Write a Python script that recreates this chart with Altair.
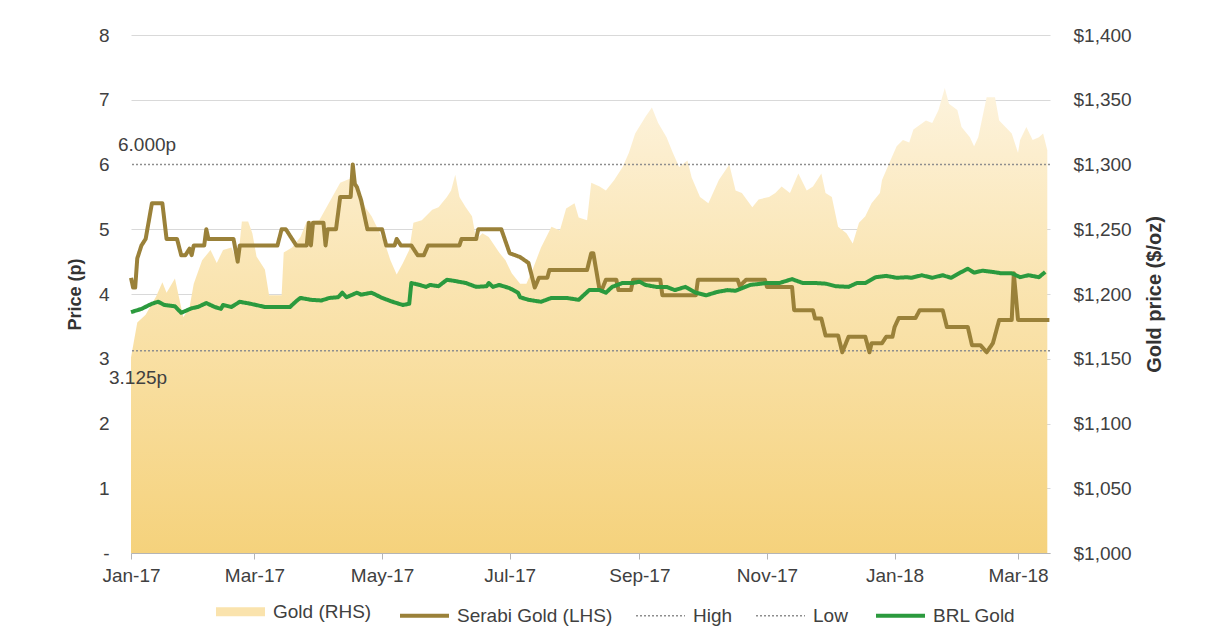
import altair as alt
import pandas as pd

# ---------------- data ----------------
GOLD_DATES = ["2017-01-01","2017-01-04","2017-01-08","2017-01-13","2017-01-16","2017-01-18","2017-01-22","2017-01-26","2017-01-29","2017-01-31",
 "2017-02-04","2017-02-08","2017-02-11","2017-02-14","2017-02-18","2017-02-21","2017-02-23","2017-02-26","2017-02-28","2017-03-02",
 "2017-03-06","2017-03-08","2017-03-14","2017-03-15","2017-03-19","2017-03-23","2017-03-26","2017-04-01","2017-04-11","2017-04-17",
 "2017-04-23","2017-04-26","2017-04-30","2017-05-03","2017-05-05","2017-05-08","2017-05-11","2017-05-14","2017-05-16","2017-05-20",
 "2017-05-25","2017-05-28","2017-06-01","2017-06-03","2017-06-05","2017-06-07","2017-06-10","2017-06-13","2017-06-15","2017-06-18",
 "2017-06-21","2017-06-26","2017-06-29","2017-07-02","2017-07-06","2017-07-09","2017-07-12","2017-07-16","2017-07-21","2017-07-25",
 "2017-07-28","2017-08-01","2017-08-03","2017-08-07","2017-08-09","2017-08-13","2017-08-16","2017-08-20","2017-08-24","2017-08-27",
 "2017-08-30","2017-09-04","2017-09-07","2017-09-10","2017-09-14","2017-09-17","2017-09-20","2017-09-24","2017-09-26","2017-09-30",
 "2017-10-04","2017-10-09","2017-10-14","2017-10-17","2017-10-20","2017-10-25","2017-10-28","2017-11-02","2017-11-05","2017-11-08",
 "2017-11-12","2017-11-16","2017-11-20","2017-11-23","2017-11-27","2017-11-29","2017-12-02","2017-12-05","2017-12-09","2017-12-12",
 "2017-12-15","2017-12-18","2017-12-21","2017-12-25","2017-12-26","2017-12-30","2018-01-02","2018-01-05","2018-01-08","2018-01-10",
 "2018-01-16","2018-01-19","2018-01-22","2018-01-25","2018-01-27","2018-01-31","2018-02-02","2018-02-06","2018-02-08","2018-02-10",
 "2018-02-14","2018-02-18","2018-02-20","2018-02-23","2018-02-26","2018-03-01","2018-03-02","2018-03-05","2018-03-08","2018-03-11",
 "2018-03-13","2018-03-15"]
GOLD_USD = [1151,1178,1184,1198,1209,1201,1212,1182,1190,1208,
 1226,1234,1224,1234,1236,1224,1256,1256,1247,1229,
 1219,1199,1199,1232,1236,1244,1256,1257,1286,1290,
 1267,1260,1247,1236,1226,1215,1224,1234,1255,1257,
 1265,1267,1275,1280,1292,1275,1267,1260,1242,1247,
 1244,1232,1226,1216,1208,1208,1219,1236,1252,1249,
 1266,1270,1259,1257,1286,1283,1280,1288,1298,1309,
 1324,1337,1344,1332,1321,1309,1298,1303,1290,1275,
 1270,1288,1300,1280,1278,1267,1273,1275,1278,1283,
 1278,1293,1280,1283,1293,1278,1275,1252,1247,1239,
 1255,1260,1270,1278,1288,1303,1314,1319,1317,1327,
 1334,1332,1342,1359,1347,1342,1329,1321,1314,1321,
 1352,1352,1334,1329,1324,1309,1319,1329,1319,1321,
 1324,1311]

SERABI_DATES = ["2017-01-01","2017-01-02","2017-01-03","2017-01-04","2017-01-06","2017-01-08","2017-01-11","2017-01-16","2017-01-18","2017-01-23",
 "2017-01-25","2017-01-27","2017-01-29","2017-01-30","2017-01-31","2017-02-05","2017-02-06","2017-02-07","2017-02-19","2017-02-21",
 "2017-02-22","2017-03-12","2017-03-14","2017-03-16","2017-03-21","2017-03-26","2017-03-27","2017-03-28","2017-03-29","2017-04-03",
 "2017-04-04","2017-04-05","2017-04-09","2017-04-11","2017-04-16","2017-04-17","2017-04-18","2017-04-19","2017-04-21","2017-04-24",
 "2017-05-01","2017-05-03","2017-05-07","2017-05-08","2017-05-10","2017-05-15","2017-05-18","2017-05-21","2017-05-23","2017-06-07",
 "2017-06-08","2017-06-15","2017-06-16","2017-06-27","2017-07-01","2017-07-06","2017-07-10","2017-07-13","2017-07-15","2017-07-19",
 "2017-07-20","2017-08-07","2017-08-09","2017-08-10","2017-08-13","2017-08-14","2017-08-16","2017-08-21","2017-08-22","2017-08-28",
 "2017-08-29","2017-09-11","2017-09-12","2017-09-28","2017-09-29","2017-10-18","2017-10-19","2017-10-22","2017-10-31","2017-11-01",
 "2017-11-13","2017-11-14","2017-11-23","2017-11-24","2017-11-27","2017-11-29","2017-12-05","2017-12-07","2017-12-10","2017-12-18",
 "2017-12-20","2017-12-21","2017-12-26","2017-12-28","2017-12-31","2018-01-01","2018-01-03","2018-01-11","2018-01-13","2018-01-24",
 "2018-01-26","2018-02-05","2018-02-07","2018-02-11","2018-02-14","2018-02-17","2018-02-20","2018-02-26","2018-02-27","2018-03-01",
 "2018-03-16"]
SERABI_P = [4.25,4.1,4.1,4.55,4.75,4.85,5.4,5.4,4.85,4.85,
 4.6,4.6,4.7,4.6,4.75,4.75,5.0,4.85,4.85,4.5,
 4.75,4.75,5.0,5.0,4.75,4.75,5.1,4.75,5.1,5.1,
 4.75,5.0,5.0,5.5,5.5,6.0,5.7,5.65,5.45,5.0,
 5.0,4.75,4.75,4.85,4.75,4.75,4.6,4.6,4.75,4.75,
 4.85,4.85,5.0,5.0,4.63,4.57,4.48,4.1,4.25,4.25,
 4.37,4.37,4.63,4.63,4.06,4.06,4.22,4.22,4.06,4.06,
 4.22,4.22,3.98,3.98,4.22,4.22,4.12,4.22,4.22,4.11,
 4.11,3.75,3.75,3.62,3.62,3.36,3.36,3.1,3.34,3.34,
 3.1,3.24,3.24,3.34,3.34,3.49,3.63,3.63,3.75,3.75,
 3.49,3.49,3.21,3.21,3.1,3.24,3.6,3.6,4.32,3.6,
 3.6]

BRL_DATES = ["2017-01-01","2017-01-06","2017-01-11","2017-01-14","2017-01-17","2017-01-22","2017-01-25","2017-01-30","2017-02-02","2017-02-06",
 "2017-02-10","2017-02-13","2017-02-14","2017-02-18","2017-02-22","2017-02-27","2017-03-06","2017-03-14","2017-03-18","2017-03-21",
 "2017-03-23","2017-03-28","2017-04-02","2017-04-06","2017-04-10","2017-04-12","2017-04-14","2017-04-19","2017-04-21","2017-04-26",
 "2017-05-01","2017-05-06","2017-05-11","2017-05-14","2017-05-15","2017-05-19","2017-05-22","2017-05-24","2017-05-28","2017-06-01",
 "2017-06-05","2017-06-10","2017-06-15","2017-06-20","2017-06-21","2017-06-23","2017-06-26","2017-07-01","2017-07-05","2017-07-06",
 "2017-07-10","2017-07-16","2017-07-21","2017-07-28","2017-08-03","2017-08-08","2017-08-13","2017-08-16","2017-08-19","2017-08-24",
 "2017-08-29","2017-09-01","2017-09-04","2017-09-09","2017-09-14","2017-09-18","2017-09-23","2017-09-28","2017-10-03","2017-10-08",
 "2017-10-13","2017-10-17","2017-10-24","2017-11-01","2017-11-07","2017-11-13","2017-11-18","2017-11-24","2017-11-29","2017-12-04",
 "2017-12-10","2017-12-14","2017-12-18","2017-12-23","2017-12-28","2018-01-02","2018-01-07","2018-01-09","2018-01-14","2018-01-19",
 "2018-01-24","2018-01-28","2018-02-02","2018-02-05","2018-02-08","2018-02-12","2018-02-17","2018-02-21","2018-02-26","2018-03-02",
 "2018-03-06","2018-03-11","2018-03-14"]
BRL_P = [3.72,3.77,3.85,3.88,3.83,3.81,3.71,3.78,3.8,3.86,
 3.8,3.77,3.83,3.8,3.88,3.85,3.8,3.8,3.8,3.89,
 3.94,3.91,3.9,3.94,3.95,4.02,3.95,4.02,3.99,4.02,
 3.94,3.88,3.83,3.85,4.17,4.14,4.11,4.14,4.12,4.22,
 4.2,4.17,4.11,4.12,4.17,4.11,4.14,4.09,4.02,3.95,
 3.91,3.88,3.94,3.94,3.91,4.06,4.06,4.02,4.11,4.17,
 4.17,4.19,4.14,4.11,4.11,4.06,4.11,4.02,3.98,4.03,
 4.06,4.05,4.14,4.17,4.17,4.23,4.17,4.17,4.16,4.12,
 4.11,4.17,4.17,4.26,4.28,4.25,4.26,4.25,4.29,4.25,
 4.29,4.25,4.34,4.39,4.33,4.36,4.34,4.32,4.32,4.26,
 4.29,4.26,4.34]

HIGH = 6.0
LOW = 3.125

SERIES = ["Gold (RHS)", "Serabi Gold (LHS)", "High", "Low", "BRL Gold"]
SERIES_COLORS = ["#fae3ad", "#9a8139", "#8e8e8e", "#8e8e8e", "#2b9a3e"]
SERIES_DASH = [[1, 0], [1, 0], [2, 2], [2, 2], [1, 0]]

PRICE_TICKS = [0, 1, 2, 3, 4, 5, 6, 7, 8]
GOLD_TICKS = [1000, 1050, 1100, 1150, 1200, 1250, 1300, 1350, 1400]
TICK_MONTHS = [(2017, 1), (2017, 3), (2017, 5), (2017, 7), (2017, 9), (2017, 11), (2018, 1), (2018, 3)]

# ---------------- tables ----------------
gold_df = pd.DataFrame({"date": pd.to_datetime(GOLD_DATES), "gold": GOLD_USD})
serabi_df = pd.DataFrame({"date": pd.to_datetime(SERABI_DATES), "value": SERABI_P, "series": "Serabi Gold (LHS)"})
brl_df = pd.DataFrame({"date": pd.to_datetime(BRL_DATES), "value": BRL_P, "series": "BRL Gold"})
hl_df = pd.DataFrame({"series": ["High", "Low"], "value": [HIGH, LOW],
                      "label": [f"{HIGH:.3f}p", f"{LOW:.3f}p"]})

FONT = "Liberation Sans"
TXT = "#404040"

x_domain = [alt.DateTime(year=2017, month=1, date=1), alt.DateTime(year=2018, month=3, date=16, hours=7)]
x_enc = alt.X("date:T",
              scale=alt.Scale(domain=x_domain),
              axis=alt.Axis(values=[alt.DateTime(year=y, month=m, date=1) for y, m in TICK_MONTHS],
                            format="%b-%y", title=None, labelFontSize=19, labelColor=TXT,
                            tickColor="#b5b5b5", tickSize=6, domainColor="#b5b5b5",
                            labelPadding=7, grid=False, labelFlush=False, labelOverlap=False))

left_axis = alt.Axis(orient="left", values=PRICE_TICKS, title="Price (p)",
                     labelExpr="datum.value == 0 ? '-' : datum.label",
                     domain=False, ticks=False, grid=True,
                     gridColor={"condition": {"test": "datum.value == 6", "value": "transparent"},
                                "value": "#d9d9d9"},
                     labelFontSize=19, labelColor=TXT, labelPadding=22,
                     titleFontSize=18, titleFontWeight="bold", titleColor="#333333", titlePadding=14)
y_left = alt.Scale(domain=[0, 8], nice=False, zero=True)

legend = alt.Legend(title=None, orient="none", legendX=100, legendY=567, direction="horizontal",
                    symbolType="stroke", symbolSize=2401,
                    symbolStrokeWidth=alt.ExprRef(expr="datum.value == 'Gold (RHS)' ? 9 : ((datum.value == 'High' || datum.value == 'Low') ? 1.5 : 4)"),
                    labelFontSize=19, labelColor=TXT, labelFont=FONT, columnPadding=20, labelOffset=23)
color_enc = alt.Color("series:N", scale=alt.Scale(domain=SERIES, range=SERIES_COLORS), legend=legend)
dash_enc = alt.StrokeDash("series:N", scale=alt.Scale(domain=SERIES, range=SERIES_DASH), legend=legend)

gradient = alt.Gradient(gradient="linear",
                        stops=[alt.GradientStop(color="#fdf3dd", offset=0),
                               alt.GradientStop(color="#fae5b3", offset=0.4),
                               alt.GradientStop(color="#f5d27c", offset=1)],
                        x1=1, x2=1, y1=0, y2=1)

area = alt.Chart(gold_df).mark_area(fill=gradient, clip=True).encode(
    x=x_enc,
    y=alt.Y("gold:Q", scale=alt.Scale(domain=[1000, 1400], nice=False, zero=False),
            axis=alt.Axis(orient="right", values=GOLD_TICKS, format="$,.0f", title="Gold price ($/oz)",
                          domain=False, ticks=False, grid=False, labelFontSize=19, labelColor=TXT,
                          labelPadding=23, titleFontSize=20, titleFontWeight="bold", titleColor="#333333",
                          titlePadding=13, titleAngle=270, titleBaseline="top")),
    y2=alt.datum(1000),
)

rules = alt.Chart(hl_df).mark_rule(strokeWidth=1.5).encode(
    y=alt.Y("value:Q", scale=y_left, axis=left_axis),
    color=color_enc, strokeDash=dash_enc)

serabi = alt.Chart(serabi_df).mark_line(strokeWidth=4, strokeJoin="round").encode(
    x=x_enc, y=alt.Y("value:Q", scale=y_left, axis=left_axis),
    color=color_enc, strokeDash=dash_enc)

brl = alt.Chart(brl_df).mark_line(strokeWidth=4, strokeJoin="round").encode(
    x=x_enc, y=alt.Y("value:Q", scale=y_left, axis=left_axis),
    color=color_enc, strokeDash=dash_enc)

txt_high = alt.Chart(hl_df[hl_df.series == "High"]).mark_text(
    align="left", baseline="alphabetic", dx=-13, dy=-14, fontSize=19, color=TXT, font=FONT).encode(
    x=alt.value(0), y=alt.Y("value:Q", scale=y_left, axis=left_axis), text="label:N")
txt_low = alt.Chart(hl_df[hl_df.series == "Low"]).mark_text(
    align="left", baseline="alphabetic", dx=-22, dy=33, fontSize=19, color=TXT, font=FONT).encode(
    x=alt.value(0), y=alt.Y("value:Q", scale=y_left, axis=left_axis), text="label:N")

inner = alt.layer(rules, serabi, brl, txt_high, txt_low)

chart = alt.layer(area, inner).resolve_scale(y="independent").properties(
    width=919, height=518,
    padding={"left": 123, "top": 27, "right": 140, "bottom": 80},
    autosize=alt.AutoSizeParams(type="none"),
    background="white",
).configure(font=FONT).configure_view(stroke=None)

chart.save("out.html", embed_options={"renderer": "svg", "actions": False})
